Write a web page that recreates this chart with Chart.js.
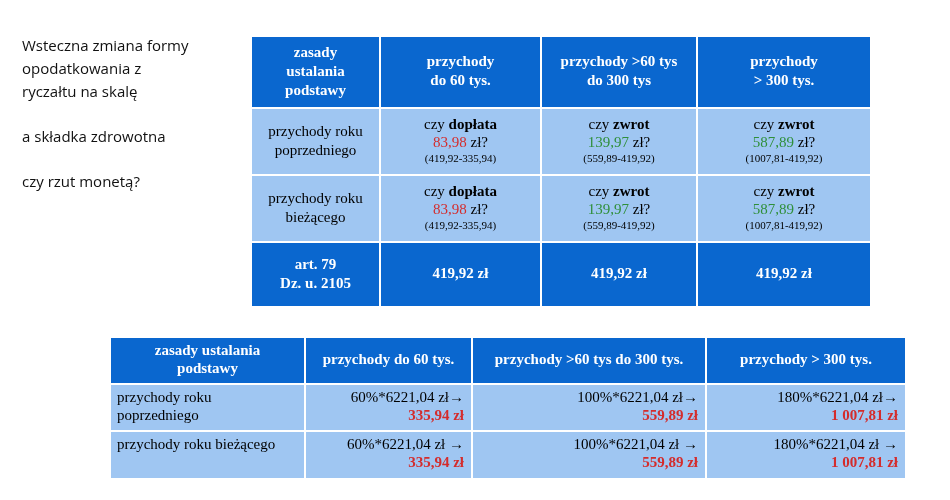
<!DOCTYPE html>
<html><head><meta charset="utf-8">
<script src="https://cdn.jsdelivr.net/npm/chart.js@4"></script>
<style>body{margin:0;background:#fff}</style>
</head><body>
<canvas id="c" width="950" height="500"></canvas>
<script>
// left note
const noteLines = ["Wsteczna zmiana formy", "opodatkowania z", "ryczałtu na skalę", "", "a składka zdrowotna", "", "czy rzut monetą?"];

// top table
const topHead = ["zasady\nustalania\npodstawy", "przychody\ndo 60 tys.", "przychody >60 tys\ndo 300 tys", "przychody\n> 300 tys."];
const topRows = ["przychody roku\npoprzedniego", "przychody roku\nbieżącego"];
const kinds = ["dopłata", "zwrot", "zwrot"];
const diffs = ["83,98", "139,97", "587,89"];
const calcs = ["(419,92-335,94)", "(559,89-419,92)", "(1007,81-419,92)"];
const footRow = ["art. 79\nDz. u. 2105", "419,92 zł", "419,92 zł", "419,92 zł"];

// bottom table
const botHead = ["zasady ustalania\npodstawy", "przychody do 60 tys.", "przychody >60 tys do 300 tys.", "przychody > 300 tys."];
const botRows = ["przychody roku\npoprzedniego", "przychody roku bieżącego"];
const pcts = ["60%", "100%", "180%"];
const base = "6221,04";
const results = ["335,94 zł", "559,89 zł", "1 007,81 zł"];

const DARK = '#0a67cf', LIGHT = '#9fc6f2', RED = '#d42c2c', GREEN = '#2f8f3a';
const SERIF = '"Liberation Serif", serif';

function R(t, o) { return Object.assign({t: t}, o || {}); }
function font(r, size) { return (r.b ? 'bold ' : '') + size + 'px ' + SERIF; }

// lines: [{runs, size, h}]
function drawLines(ctx, lines, x0, x1, y, align) {
  lines.forEach(function (ln) {
    let w = 0;
    ln.runs.forEach(function (r) { ctx.font = font(r, ln.size); w += ctx.measureText(r.t).width; });
    let x = align === 'left' ? x0 : align === 'right' ? x1 - w : (x0 + x1 - w) / 2;
    const cy = y + ln.h / 2;
    ln.runs.forEach(function (r) {
      ctx.font = font(r, ln.size);
      ctx.fillStyle = r.c || '#000';
      ctx.textBaseline = 'middle';
      ctx.fillText(r.t, x, cy);
      x += ctx.measureText(r.t).width;
    });
    y += ln.h;
  });
}
function simple(text, o, size, h) {
  return text.split('\n').map(function (s) { return {runs: [R(s, o)], size: size, h: h}; });
}
function total(lines) { return lines.reduce(function (a, l) { return a + l.h; }, 0); }

function cell(ctx, x0, x1, y0, y1, bg, lines, align, valign, pad) {
  ctx.fillStyle = bg;
  ctx.fillRect(x0, y0, x1 - x0, y1 - y0);
  ctx.strokeStyle = '#fff'; ctx.lineWidth = 2;
  ctx.strokeRect(x0, y0, x1 - x0, y1 - y0);
  const p = pad || 8;
  const y = valign === 'top' ? y0 + 5 : (y0 + y1 - total(lines)) / 2;
  drawLines(ctx, lines, x0 + p, x1 - p, y, align);
}

const tablesPlugin = {
  id: 'tables',
  afterDraw: function (chart) {
    const ctx = chart.ctx;
    ctx.save();
    // note
    ctx.font = '15px "Open Sans", sans-serif';
    ctx.fillStyle = '#111'; ctx.textBaseline = 'middle';
    noteLines.forEach(function (s, i) { ctx.fillText(s, 22, 47 + i * 22.7); });

    // top table
    const tx = [251, 380, 541, 697, 871], ty = [36, 108, 175, 242, 307];
    topHead.forEach(function (h, i) {
      cell(ctx, tx[i], tx[i + 1], ty[0], ty[1], DARK, simple(h, {b: true, c: '#fff'}, 15, 19), 'center');
    });
    topRows.forEach(function (rname, r) {
      cell(ctx, tx[0], tx[1], ty[r + 1], ty[r + 2], LIGHT, simple(rname, {}, 15, 19), 'center');
      kinds.forEach(function (k, i) {
        const lines = [
          {runs: [R('czy '), R(k, {b: true})], size: 15, h: 18},
          {runs: [R(diffs[i], {c: i === 0 ? RED : GREEN}), R(' zł?')], size: 15, h: 18},
          {runs: [R(calcs[i])], size: 11, h: 15}
        ];
        cell(ctx, tx[i + 1], tx[i + 2], ty[r + 1], ty[r + 2], LIGHT, lines, 'center');
      });
    });
    footRow.forEach(function (f, i) {
      cell(ctx, tx[i], tx[i + 1], ty[3], ty[4], DARK, simple(f, {b: true, c: '#fff'}, 15, 19), 'center');
    });

    // bottom table
    const bx = [110, 305, 472, 706, 906], by = [337, 384, 431, 479];
    botHead.forEach(function (h, i) {
      cell(ctx, bx[i], bx[i + 1], by[0], by[1], DARK, simple(h, {b: true, c: '#fff'}, 15, 18), 'center');
    });
    botRows.forEach(function (rname, r) {
      cell(ctx, bx[0], bx[1], by[r + 1], by[r + 2], LIGHT, simple(rname, {}, 15, 18), 'left', 'top', 7);
      pcts.forEach(function (p, i) {
        const lines = [
          {runs: [R(p + '*' + base + ' zł' + (r ? ' →' : '→'))], size: 15, h: 18},
          {runs: [R(results[i], {b: true, c: RED})], size: 15, h: 19}
        ];
        cell(ctx, bx[i + 1], bx[i + 2], by[r + 1], by[r + 2], LIGHT, lines, 'right', 'top', 8);
      });
    });
    ctx.restore();
  }
};

new Chart(document.getElementById('c').getContext('2d'), {
  type: 'bar',
  data: {labels: [], datasets: []},
  options: {
    responsive: false, animation: false,
    plugins: {legend: {display: false}, tooltip: {enabled: false}},
    scales: {x: {display: false}, y: {display: false}}
  },
  plugins: [tablesPlugin]
});
</script>
</body></html>
